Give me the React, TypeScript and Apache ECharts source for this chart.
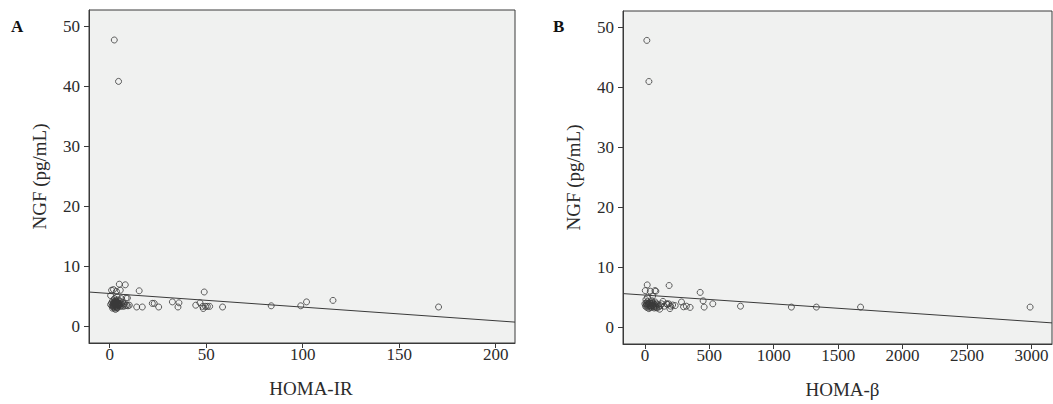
import React, { useEffect, useRef } from "react";
import * as echarts from "echarts";

// ---- Data ----
const yTicks = [0, 10, 20, 30, 40, 50];
const xTicksA = [0, 50, 100, 150, 200];
const xTicksB = [0, 500, 1000, 1500, 2000, 2500, 3000];

// Panel A: HOMA-IR vs NGF (pg/mL)
const homaIR: number[] = [
  2.4, 4.6, 5, 8.1, 15.3, 49, 1, 2, 3.5, 5.5, 0.5, 3.8, 6, 8.5, 9.2,
  32.5, 35.9, 35.4, 22.1, 23.1, 25.4, 14, 16.9, 44.6, 46.8, 48.2, 48.5, 49.7, 50.6, 51.8,
  58.5, 83.7, 99, 102, 115.7, 170.4,
  0.5, 1, 1.2, 1.5, 1.8, 2, 2.2, 2.4, 2.6, 2.8, 3, 3.2, 3.4, 3.6, 3.8, 4, 4.2, 4.4,
  4.6, 4.8, 5, 5.3, 5.6, 6, 6.3, 6.7, 7, 7.5, 8, 8.8, 9.5, 10.2, 3, 2.5, 1.5,
  1.9, 2.3, 2.7, 3.1, 3.3, 3.7, 4.1, 4.5, 2.1, 2.9, 3.5, 3.9, 4.3, 1.7, 2.6, 3.4, 4.0, 5.1,
];
const ngfA: number[] = [
  47.7, 40.8, 7.0, 6.9, 5.9, 5.7, 6.0, 6.1, 5.8, 6.0, 5.1, 4.9, 4.6, 4.7, 4.7,
  4.05, 3.9, 3.2, 3.8, 3.8, 3.2, 3.2, 3.2, 3.5, 3.9, 3.3, 2.95, 3.3, 3.3, 3.3,
  3.2, 3.4, 3.4, 4.05, 4.3, 3.2,
  3.6, 3.9, 3.4, 4.2, 3.7, 3.2, 4.0, 3.5, 3.0, 3.8, 4.3, 3.3, 3.9, 3.6, 4.1, 3.1, 3.7, 4.4,
  3.4, 3.9, 3.6, 4.2, 3.3, 3.8, 3.5, 4.0, 3.3, 3.7, 3.4, 3.5, 3.4, 3.5, 2.8, 4.6, 3.0,
  3.5, 3.8, 3.3, 3.6, 4.0, 3.2, 3.5, 3.8, 3.9, 4.1, 3.4, 3.0, 3.6, 3.3, 3.7, 4.2, 3.9, 3.5,
];

// Panel B: HOMA-beta vs NGF (pg/mL)
const homaB: number[] = [
  15, 31, 18, 188, 429, 452, 460, 527, 742, 1137, 1331, 1674, 2990,
  284, 300, 322, 351, 194, 235, 168, 78, 3, 42, 85, 20, 60,
  5, 10, 15, 20, 25, 30, 35, 40, 45, 50, 55, 60, 65, 70, 75, 80, 85, 90, 95, 100,
  110, 115, 120, 130, 140, 150, 175, 185, 200, 215, 0, 8,
  12, 22, 28, 38, 48, 58, 68, 88, 33, 52, 72, 18, 44, 64,
];
const ngfB: number[] = [
  47.8, 40.95, 7.05, 6.95, 5.8, 4.4, 3.35, 3.9, 3.5, 3.35, 3.35, 3.35, 3.35,
  4.2, 3.4, 3.5, 3.3, 3.1, 3.6, 3.9, 6.1, 6.1, 6.0, 6.0, 5.0, 5.2,
  3.5, 4.0, 3.3, 4.3, 3.8, 3.1, 4.1, 3.6, 3.9, 3.3, 4.4, 3.7, 4.0, 3.4, 3.8, 4.2, 3.5, 3.9, 3.2, 3.7,
  3.4, 3.0, 3.6, 3.9, 4.3, 3.5, 3.8, 3.9, 3.5, 3.7, 3.9, 4.6,
  3.7, 3.5, 4.0, 3.3, 3.6, 4.1, 3.5, 3.3, 3.8, 4.0, 3.2, 3.9, 3.4, 3.7,
];

// Fitted regression lines (intercept, slope)
const fitA = { intercept: 5.45, slope: -0.0227 };
const fitB = { intercept: 5.35, slope: -0.001465 };

const xRangeA = [-10.7, 210];
const xRangeB = [-170, 3160];
const yRange = [-2.8, 52.7];

export default function App() {
  const ref = useRef<HTMLDivElement>(null);
  useEffect(() => {
    if (!ref.current) return;
    const chart = echarts.init(ref.current, undefined, { renderer: "svg" });
    const font = "Liberation Serif";
    const textColor = "#2b2b2b";
    const lineColor = "#3a3a3a";
    const fmt = (v: number) => String(v);

    const makeX = (idx: number, range: number[], ticks: number[], name: string, shift: number) => ({
      type: "value",
      gridIndex: idx,
      min: range[0],
      max: range[1],
      name,
      nameLocation: "middle",
      nameGap: 36,
      nameTextStyle: {
        fontFamily: font,
        fontSize: 19,
        color: textColor,
        padding: [0, 0, 0, shift * 2],
      },
      axisLine: { show: true, onZero: false, lineStyle: { color: lineColor } },
      splitLine: { show: false },
      axisTick: { show: true, inside: false, length: 5, customValues: ticks, lineStyle: { color: lineColor } },
      axisLabel: {
        customValues: ticks,
        formatter: fmt,
        margin: 3,
        fontFamily: font,
        fontSize: 17,
        color: textColor,
      },
    });
    const makeY = (idx: number) => ({
      type: "value",
      gridIndex: idx,
      min: yRange[0],
      max: yRange[1],
      name: "NGF (pg/mL)",
      nameLocation: "middle",
      nameGap: 40,
      nameTextStyle: { fontFamily: font, fontSize: 19, color: textColor },
      axisLine: { show: true, onZero: false, lineStyle: { color: lineColor } },
      splitLine: { show: false },
      axisTick: { show: true, inside: false, length: 5, customValues: yTicks, lineStyle: { color: lineColor } },
      axisLabel: {
        customValues: yTicks,
        formatter: fmt,
        margin: 9,
        fontFamily: font,
        fontSize: 17,
        color: textColor,
      },
    });

    const scatterStyle = {
      symbol: "circle",
      symbolSize: 6,
      itemStyle: { color: "rgba(0,0,0,0)", borderColor: "#3a3a3a", borderWidth: 1 },
    };

    const fitLine = (range: number[], fit: { intercept: number; slope: number }) =>
      range.map((x) => [x, fit.intercept + fit.slope * x]);

    chart.setOption({
      animation: false,
      grid: [
        {
          left: 89,
          top: 10,
          width: 426,
          height: 333,
          show: true,
          backgroundColor: "#f0f1f0",
          borderColor: lineColor,
          borderWidth: 1,
        },
        {
          left: 623,
          top: 11,
          width: 429,
          height: 333,
          show: true,
          backgroundColor: "#f0f1f0",
          borderColor: lineColor,
          borderWidth: 1,
        },
      ],
      xAxis: [makeX(0, xRangeA, xTicksA, "HOMA-IR", 9), makeX(1, xRangeB, xTicksB, "HOMA-β", 5)],
      yAxis: [makeY(0), makeY(1)],
      series: [
        {
          type: "scatter",
          xAxisIndex: 0,
          yAxisIndex: 0,
          data: homaIR.map((x, i) => [x, ngfA[i]]),
          ...scatterStyle,
        },
        {
          type: "line",
          xAxisIndex: 0,
          yAxisIndex: 0,
          data: fitLine(xRangeA, fitA),
          symbol: "none",
          lineStyle: { color: "#3a3a3a", width: 1 },
        },
        {
          type: "scatter",
          xAxisIndex: 1,
          yAxisIndex: 1,
          data: homaB.map((x, i) => [x, ngfB[i]]),
          ...scatterStyle,
        },
        {
          type: "line",
          xAxisIndex: 1,
          yAxisIndex: 1,
          data: fitLine(xRangeB, fitB),
          symbol: "none",
          lineStyle: { color: "#3a3a3a", width: 1 },
        },
      ],
      graphic: [
        {
          type: "text",
          left: 11,
          top: 18,
          style: { text: "A", font: `bold 17px "${font}"`, fill: "#111" },
        },
        {
          type: "text",
          left: 553,
          top: 18,
          style: { text: "B", font: `bold 17px "${font}"`, fill: "#111" },
        },
      ],
    });
    return () => chart.dispose();
  }, []);
  return (
    <div
      ref={ref}
      style={{ position: "absolute", left: 0, top: 0, width: 1053, height: 404, background: "#fff" }}
    />
  );
}
